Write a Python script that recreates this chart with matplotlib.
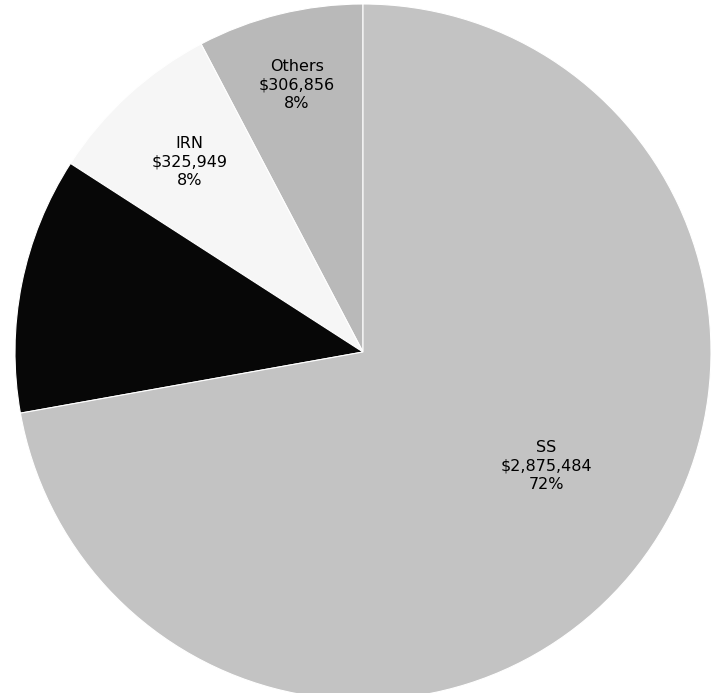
import matplotlib
matplotlib.use("Agg")
import matplotlib.pyplot as plt
import numpy as np

categories = ["Others", "IRN", "", "SS"]
values = [306856, 325949, 475000, 2875484]
value_labels = ["$306,856", "$325,949", "", "$2,875,484"]
pct_labels = ["8%", "8%", "", "72%"]
colors = ["#b9b9b9", "#f6f6f6", "#070707", "#c3c3c3"]

W, H, DPI = 711, 693, 100
fig = plt.figure(figsize=(W / DPI, H / DPI), dpi=DPI)
fig.patch.set_facecolor("white")
ax = fig.add_axes([0, 0, 1, 1])

R_PX = 348.0
CX, CY = 363.0, 352.0  # pixel centre (from top-left)

wedges, _ = ax.pie(values, colors=colors, startangle=90, counterclock=True,
                   radius=1.0, center=(0, 0),
                   wedgeprops=dict(edgecolor="white", linewidth=0.8))

ax.set_aspect("auto")
ax.set_xlim(-CX / R_PX, (W - CX) / R_PX)
ax.set_ylim(-(H - CY) / R_PX, CY / R_PX)
ax.axis("off")

label_r = [0.79, 0.74, 0.6, 0.62]
angle_off = [0, 0, 0, 8]
for w, cat, vl, pl, r, off in zip(wedges, categories, value_labels, pct_labels, label_r, angle_off):
    if not cat:
        continue
    th = np.deg2rad((w.theta1 + w.theta2) / 2 + off)
    ax.text(r * np.cos(th), r * np.sin(th), f"{cat}\n{vl}\n{pl}",
            ha="center", va="center", fontsize=11.5, color="black",
            linespacing=1.3, family="DejaVu Sans")

fig.savefig("out.png", dpi=DPI, facecolor="white")
